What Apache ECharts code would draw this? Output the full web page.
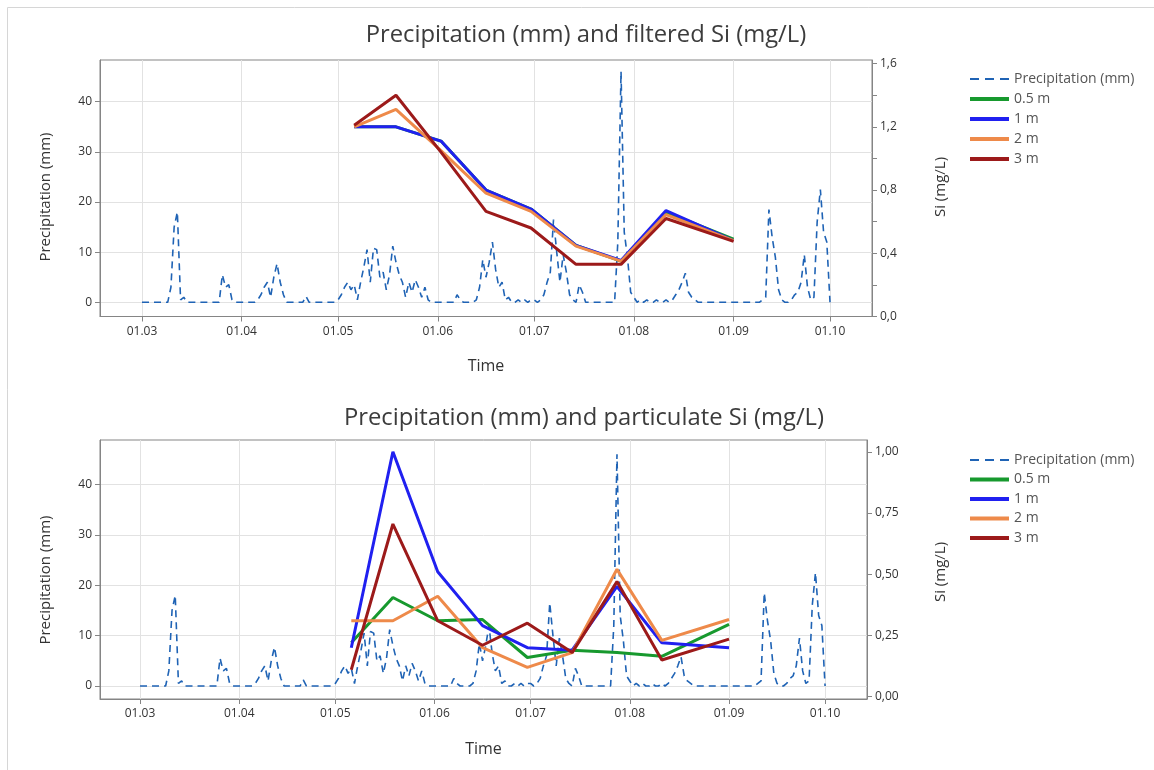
<!DOCTYPE html>
<html><head><meta charset="utf-8">
<script src="https://cdn.jsdelivr.net/npm/echarts@6/dist/echarts.min.js"></script>
<style>html,body{margin:0;padding:0;background:#fff}#c{width:1154px;height:770px}</style>
</head><body><div id="c"></div>
<script>
// ---------- data ----------
const precipStart = '2019-03-01';
const precipMarch = [0,0,0,0,0,0,0,0,0, 3,15,18,0.5,1, 0,0,0,0,0,0,0,0,0,0,0, 5.5,3,3.5,0.5,0,0];
const precipApril = [0,0,0,0,0, 0.5,1.5,3,4,1,5,7.7,4,1.5, 0,0,0,0,0,0, 1.2, 0,0,0,0,0,0,0,0,0];
const precipMay = [0.5,1.5,3,4,2.5,3.5,0.5,4,7,10.5,4,10.8,10.5,5,6,2.5,5.5,11.2,8,5.5,4,1,4,2,4.5,3,1,3,0.5,0,0];
const precipJune = [0,0,0,0,0,0, 1.5,0.5, 0,0,0,0, 0.5,3,8.5,5,8,12,6.5,3,4,0.5,1, 0,0,0.5,0,0.5,0,0.5];
const precipJuly = [0.5,0,0.5,1.5,4,6,16.5,10,4,9.5,6,1.5,0.5,0,3.5,2, 0,0,0,0,0,0,0,0,0,0, 12,46,14,9,2];
const precipAugust = [1,0,0.5,0,0.5,0,0,0.5,0,0,0.5,0,0.5,1.5,2.5,4,5.8,2,1,0.5, 0,0,0,0,0,0,0,0,0,0,0];
const precipSeptember = [0,0,0,0,0,0,0,0,0, 0.5,1,18.5,13,9,2.5,0.5,0,0,0.5,1.5,2,4,9.5,3,0.5,1,16,22.5,14,12];
const precipOctober = [0];

const siDates = ['2019-05-06','2019-05-19','2019-06-02','2019-06-16','2019-06-30','2019-07-14','2019-07-28','2019-08-11','2019-09-01'];
const filtered05 = [1.20, 1.20, 1.11, 0.80, 0.68, 0.45, 0.35, 0.66, 0.49];
const filtered1  = [1.20, 1.20, 1.11, 0.80, 0.68, 0.45, 0.355, 0.67, 0.48];
const filtered2  = [1.20, 1.31, 1.05, 0.78, 0.665, 0.445, 0.35, 0.645, 0.48];
const filtered3  = [1.21, 1.40, 1.04, 0.665, 0.56, 0.33, 0.33, 0.62, 0.475];
const particulate05 = [0.22, 0.405, 0.31, 0.315, 0.16, 0.19, 0.18, 0.165, 0.295];
const particulate1  = [0.20, 1.00, 0.51, 0.29, 0.20, 0.19, 0.45, 0.22, 0.20];
const particulate2  = [0.31, 0.31, 0.41, 0.20, 0.12, 0.18, 0.52, 0.23, 0.315];
const particulate3  = [0.11, 0.705, 0.31, 0.21, 0.30, 0.18, 0.47, 0.15, 0.235];

const monthTicks = ['2019-03-01','2019-04-01','2019-05-01','2019-06-01','2019-07-01','2019-08-01','2019-09-01','2019-10-01'];
const precipTicks = [0, 10, 20, 30, 40];
const filteredTicks = [0, 0.4, 0.8, 1.2, 1.6];
const filteredMinorTicks = [0, 0.2, 0.4, 0.6, 0.8, 1.0, 1.2, 1.4, 1.6];
const particulateTicks = [0, 0.25, 0.5, 0.75, 1.0];

const seriesNames = ['Precipitation (mm)', '0.5 m', '1 m', '2 m', '3 m'];
const colors = {precip: '#1f63b5', d05: '#17992e', d1: '#2020f0', d2: '#ee8a4a', d3: '#9c1a1a'};

// ---------- build ----------
const DAY = 86400000;
const t0 = Date.parse(precipStart);
const precipAll = [].concat(precipMarch, precipApril, precipMay, precipJune, precipJuly, precipAugust, precipSeptember, precipOctober);
const precipData = precipAll.map((v, i) => [t0 + i * DAY, v]);
const siT = siDates.map(d => Date.parse(d));
const zipSi = arr => arr.map((v, i) => [siT[i], v]);
const xTickVals = monthTicks.map(d => Date.parse(d));
const pad = n => (n < 10 ? '0' : '') + n;
const fmtDate = v => { const d = new Date(v); return pad(d.getUTCDate()) + '.' + pad(d.getUTCMonth() + 1); };
const FONT = 'Open Sans';
const AX = '#858585';
const LBL = '#333333';

function xAxis(gi, minD, maxD) {
  return {
    type: 'value', gridIndex: gi, min: t0 + minD * DAY, max: t0 + maxD * DAY,
    name: 'Time', nameLocation: 'middle', nameGap: 42,
    nameTextStyle: {fontSize: 16, color: LBL, fontFamily: FONT},
    axisLine: {show: true, onZero: false, lineStyle: {color: AX}},
    axisTick: {show: true, length: 5, customValues: xTickVals, lineStyle: {color: AX}},
    axisLabel: {customValues: xTickVals, formatter: fmtDate, margin: 9, fontSize: 12, color: LBL, fontFamily: FONT},
    splitLine: {show: true, lineStyle: {color: '#e2e2e2', width: 1}}
  };
}
function leftAxis(gi, mn, mx) {
  return {
    type: 'value', gridIndex: gi, position: 'left', min: mn, max: mx,
    axisLine: {show: true, onZero: false, lineStyle: {color: AX}},
    axisTick: {show: true, length: 5, customValues: precipTicks, lineStyle: {color: AX}},
    axisLabel: {customValues: precipTicks, margin: 8, fontSize: 12, color: LBL, fontFamily: FONT},
    splitLine: {show: true, lineStyle: {color: '#e2e2e2', width: 1}}
  };
}
function rightAxis(gi, mn, mx, labels, ticks, dec) {
  return {
    type: 'value', gridIndex: gi, position: 'right', min: mn, max: mx,
    axisLine: {show: true, onZero: false, lineStyle: {color: AX}},
    axisTick: {show: true, length: 5, customValues: ticks, lineStyle: {color: AX}},
    axisLabel: {customValues: labels, margin: 8, fontSize: 12, color: LBL, fontFamily: FONT,
      formatter: v => Number(v).toFixed(dec).replace('.', ',')},
    splitLine: {show: false}
  };
}
function precipSeries(gi) {
  return {type: 'line', name: seriesNames[0], xAxisIndex: gi, yAxisIndex: gi * 2, data: precipData,
    symbol: 'none', z: 2, lineStyle: {color: colors.precip, width: 1.6, type: [7, 5]}, itemStyle: {color: colors.precip}};
}
function siSeries(gi, name, arr, color) {
  return {type: 'line', name: name, xAxisIndex: gi, yAxisIndex: gi * 2 + 1, data: zipSi(arr),
    symbol: 'none', z: 3, lineStyle: {color: color, width: 3}, itemStyle: {color: color}};
}
function legend(top, gap) {
  return {orient: 'vertical', left: 963, top: top, itemWidth: 39, itemHeight: 14, itemGap: gap,
    selectedMode: false,
    data: seriesNames.map((n, i) => i === 0
      ? {name: n, lineStyle: {width: 2, type: [9, 6]}}
      : {name: n, lineStyle: {width: 4}}),
    itemStyle: {opacity: 0, borderWidth: 0},
    textStyle: {fontSize: 14, color: '#555', fontFamily: FONT}};
}
function vText(x, y, text) {
  return {type: 'text', x: x, y: y, rotation: Math.PI / 2,
    style: {text: text, align: 'center', verticalAlign: 'middle', fill: LBL, font: '15px "' + FONT + '"'}};
}
function hTitle(x, y, text) {
  return {type: 'text', x: x, y: y,
    style: {text: text, align: 'center', verticalAlign: 'middle', fill: '#3c3c3c', font: '23.8px "' + FONT + '"'}};
}

const chart = echarts.init(document.getElementById('c'), null, {renderer: 'canvas'});
chart.setOption({
  animation: false,
  backgroundColor: '#ffffff',
  grid: [
    {left: 100, top: 60, width: 772, height: 256.5, show: true, borderColor: AX, borderWidth: 1},
    {left: 100, top: 440, width: 767, height: 259, show: true, borderColor: AX, borderWidth: 1}
  ],
  xAxis: [xAxis(0, -13.06, 227.06), xAxis(1, -12.5, 227.1)],
  yAxis: [
    leftAxis(0, -2.83, 48.31),
    rightAxis(0, 0, 1.623, filteredTicks, filteredMinorTicks, 1),
    leftAxis(1, -2.58, 48.83),
    rightAxis(1, -0.0094, 1.048, particulateTicks, particulateTicks, 2)
  ],
  legend: [legend(67, 6), legend(448, 5.5)],
  graphic: [
    {type: 'rect', shape: {x: 7.5, y: 7.5, width: 1200, height: 800}, style: {fill: 'none', stroke: '#d6d6d6', lineWidth: 1}, silent: true},
    hTitle(586, 35, 'Precipitation (mm) and filtered Si (mg/L)'),
    hTitle(584, 418, 'Precipitation (mm) and particulate Si (mg/L)'),
    vText(46, 197, 'Precipitation (mm)'),
    vText(941, 187, 'Si (mg/L)'),
    vText(46, 580, 'Precipitation (mm)'),
    vText(941, 572, 'Si (mg/L)')
  ],
  series: [
    precipSeries(0),
    siSeries(0, '0.5 m', filtered05, colors.d05),
    siSeries(0, '1 m', filtered1, colors.d1),
    siSeries(0, '2 m', filtered2, colors.d2),
    siSeries(0, '3 m', filtered3, colors.d3),
    precipSeries(1),
    siSeries(1, '0.5 m', particulate05, colors.d05),
    siSeries(1, '1 m', particulate1, colors.d1),
    siSeries(1, '2 m', particulate2, colors.d2),
    siSeries(1, '3 m', particulate3, colors.d3)
  ]
});
</script></body></html>
